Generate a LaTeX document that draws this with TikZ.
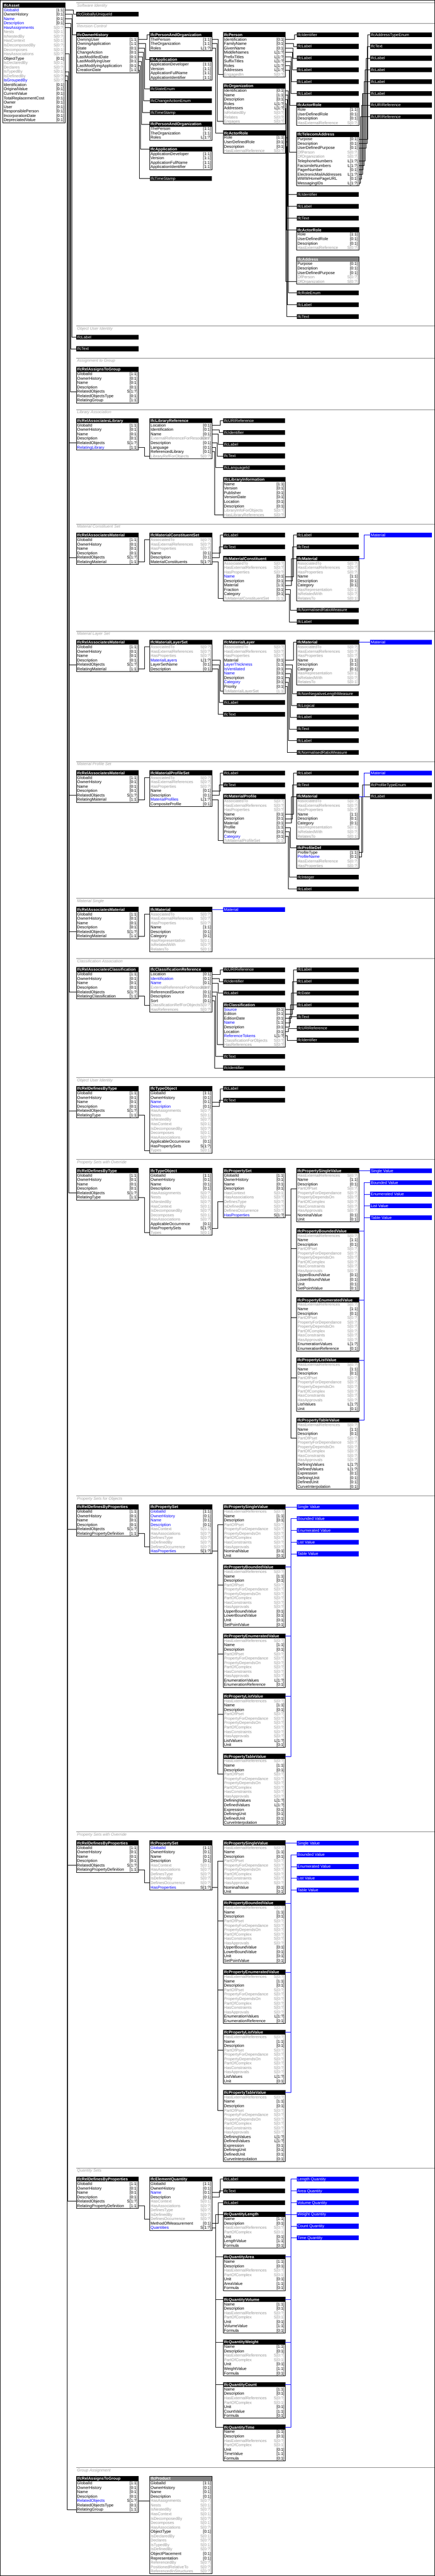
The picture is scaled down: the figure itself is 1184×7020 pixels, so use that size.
\documentclass[tikz,border=0pt]{standalone}
\usepackage{fontspec}
\setmainfont{Liberation Sans}

\definecolor{kk}{RGB}{0,0,0}
\definecolor{gg}{RGB}{150,150,150}
\definecolor{bb}{RGB}{0,0,255}
\definecolor{bg}{RGB}{0,0,255}
\definecolor{blu}{RGB}{0,0,255}
\definecolor{absgray}{RGB}{128,128,128}
\definecolor{secgray}{RGB}{128,128,128}
\definecolor{labgray}{RGB}{160,160,160}
\def\cardkk{kk}\def\cardgg{gg}\def\cardbb{kk}\def\cardbg{gg}

\newcommand{\rowf}{\fontsize{11}{12}\selectfont}

% entity box: [header fill]{name}{x}{y}{title}{rows}
\newcommand{\entity}[6][black]{%
  \fill[#1] (#3,#4) rectangle ++(169,13);
  \node[hdr] (#2) at (#3+2,#4+6.5) {#5};
  \coordinate (#2-h) at (#3,#4+6.5);
  \coordinate (#2-he) at (#3+169,#4+6.5);
  \edef\entrows{#6}%
  \foreach \nm/\cd/\cl [count=\i from 0] in \entrows {%
    \edef\cc{\csname card\cl\endcsname}%
    \node[row,text=\cl] (#2-\i) at (#3+2,#4+19+12*\i) {\nm};
    \node[card,text=\cc] (#2-\i-c) at (#3+167,#4+19+12*\i) {\cd};
    \coordinate (#2-\i-w) at (#3,#4+19+12*\i);
    \coordinate (#2-\i-e) at (#3+169,#4+19+12*\i);
    \xdef\entn{\i}}%
  \draw[box] (#3,#4) rectangle (#3+169,#4+26+12*\entn);}

% type box: [fill]{name}{x}{y}{title}
\newcommand{\tybox}[5][black]{%
  \fill[#1] (#3,#4) rectangle ++(169,13);
  \node[tlab] (#2) at (#3+2,#4+6.5) {#5};
  \coordinate (#2-h) at (#3,#4+6.5);
  \coordinate (#2-he) at (#3+169,#4+6.5);}

\newcommand{\conn}[4][wire]{\draw[#1] (#2) -| ([xshift=-#4]#3) -- (#3);}

\newcommand{\sectn}[2]{\draw[secline] (208,#1) -- (1184,#1);
  \node[seclab] at (210,#1+7) {#2};}

\def\relrows{GlobalId/[1:1]/kk,OwnerHistory/[0:1]/kk,Name/[0:1]/kk,Description/[0:1]/kk,RelatedObjects/S[1:?]/kk}
\def\rootinv{HasAssignments/S[0:?]/gg,Nests/S[0:1]/gg,IsNestedBy/S[0:?]/gg,HasContext/S[0:1]/gg,IsDecomposedBy/S[0:?]/gg,Decomposes/S[0:1]/gg,HasAssociations/S[0:?]/gg}
\def\matdef{AssociatedTo/S[0:?]/gg,HasExternalReferences/S[0:?]/gg,HasProperties/S[0:?]/gg}
\def\matrows{\matdef,Name/[1:1]/kk,Description/[0:1]/kk,Category/[0:1]/kk,HasRepresentation/S[0:1]/gg,IsRelatedWith/S[0:?]/gg,RelatesTo/S[0:1]/gg}
\def\proprows{HasExternalReferences/S[0:?]/gg,Name/[1:1]/kk,Description/[0:1]/kk,PartOfPset/S[0:?]/gg,PropertyForDependance/S[0:?]/gg,PropertyDependsOn/S[0:?]/gg,PartOfComplex/S[0:?]/gg,HasConstraints/S[0:?]/gg,HasApprovals/S[0:?]/gg}
\def\psetinv{HasContext/S[0:1]/gg,HasAssociations/S[0:?]/gg,DefinesType/S[0:?]/gg,IsDefinedBy/S[0:?]/gg,DefinesOccurrence/S[0:?]/gg}
\def\qtyrows{Name/[1:1]/kk,Description/[0:1]/kk,HasExternalReferences/S[0:?]/gg,PartOfComplex/S[0:1]/gg,Unit/[0:1]/kk}
\def\rolerows{Role/[1:1]/kk,UserDefinedRole/[0:1]/kk,Description/[0:1]/kk,HasExternalReference/S[0:?]/gg}
\def\paorows{ThePerson/[1:1]/kk,TheOrganization/[1:1]/kk,Roles/L[1:?]/kk}
\def\approws{ApplicationDeveloper/[1:1]/kk,Version/[1:1]/kk,ApplicationFullName/[1:1]/kk,ApplicationIdentifier/[1:1]/kk}

% property values with their value boxes: {pset}{prefix}{x}{y}
\newcommand{\propset}[4]{%
  \entity{#2s}{#3}{#4}{IfcPropertySingleValue}{\proprows,NominalValue/[0:1]/kk,Unit/[0:1]/kk}
  \entity{#2b}{#3}{#4+164}{IfcPropertyBoundedValue}{\proprows,UpperBoundValue/[0:1]/kk,LowerBoundValue/[0:1]/kk,Unit/[0:1]/kk,SetPointValue/[0:1]/kk}
  \entity{#2e}{#3}{#4+352}{IfcPropertyEnumeratedValue}{\proprows,EnumerationValues/L[1:?]/kk,EnumerationReference/[0:1]/kk}
  \entity{#2l}{#3}{#4+516}{IfcPropertyListValue}{\proprows,ListValues/L[1:?]/kk,Unit/[0:1]/kk}
  \entity{#2t}{#3}{#4+680}{IfcPropertyTableValue}{\proprows,DefiningValues/L[1:?]/kk,DefinedValues/L[1:?]/kk,Expression/[0:1]/kk,DefiningUnit/[0:1]/kk,DefinedUnit/[0:1]/kk,CurveInterpolation/[0:1]/kk}
  \tybox[blu]{#2vs}{#3+200}{#4}{Single Value}
  \tybox[blu]{#2vb}{#3+200}{#4+32}{Bounded Value}
  \tybox[blu]{#2ve}{#3+200}{#4+64}{Enumerated Value}
  \tybox[blu]{#2vl}{#3+200}{#4+96}{List Value}
  \tybox[blu]{#2vt}{#3+200}{#4+128}{Table Value}
  \foreach \p in {s,b,e,l,t}{\conn{#1-9-e}{#2\p-3-w}{15}\conn[bwire]{#2\p-he}{#2v\p-h}{16}}}

\begin{document}
\begin{tikzpicture}[x=1pt,y=-1pt,
  box/.style={draw=black,line width=1pt},
  hdr/.style={anchor=west,inner sep=0pt,text=white,text height=9pt,text depth=1pt,font=\rowf\bfseries},
  tlab/.style={anchor=west,inner sep=0pt,text=white,text height=9pt,text depth=1pt,font=\rowf},
  row/.style={anchor=west,inner sep=0pt,text height=9pt,text depth=1pt,font=\rowf},
  card/.style={anchor=east,inner sep=0pt,text height=9pt,text depth=1pt,font=\rowf},
  wire/.style={draw=black,line width=1pt},
  bwire/.style={draw=blu,line width=1pt},
  secline/.style={draw=secgray,line width=1pt},
  seclab/.style={anchor=west,inner sep=0pt,text=labgray,text height=9pt,text depth=1pt,font=\rowf\itshape}]

\useasboundingbox (0,0) rectangle (1184,7020);
\draw[box] (0.5,0.5) rectangle (1183.5,7019.5);

\entity{asset}{8}{8}{IfcAsset}{GlobalId/[1:1]/bb,OwnerHistory/[0:1]/kk,Name/[0:1]/bb,Description/[0:1]/bb,%
HasAssignments/S[0:?]/bg,Nests/S[0:1]/gg,IsNestedBy/S[0:?]/gg,HasContext/S[0:1]/gg,IsDecomposedBy/S[0:?]/gg,%
Decomposes/S[0:1]/gg,HasAssociations/S[0:?]/gg,ObjectType/[0:1]/kk,IsDeclaredBy/S[0:1]/gg,Declares/S[0:?]/gg,%
IsTypedBy/S[0:1]/gg,IsDefinedBy/S[0:?]/gg,IsGroupedBy/S[0:?]/bg,Identification/[0:1]/kk,OriginalValue/[0:1]/kk,%
CurrentValue/[0:1]/kk,TotalReplacementCost/[0:1]/kk,Owner/[0:1]/kk,User/[0:1]/kk,ResponsiblePerson/[0:1]/kk,%
IncorporationDate/[0:1]/kk,DepreciatedValue/[0:1]/kk}

% Software Identity, Revision Control
\sectn{8}{Software Identity}
\tybox{guid}{208}{32}{IfcGloballyUniqueId}
\sectn{64}{Revision Control}
\entity{ownh}{208}{88}{IfcOwnerHistory}{OwningUser/[1:1]/kk,OwningApplication/[1:1]/kk,State/[0:1]/kk,ChangeAction/[0:1]/kk,%
LastModifiedDate/[0:1]/kk,LastModifyingUser/[0:1]/kk,LastModifyingApplication/[0:1]/kk,CreationDate/[1:1]/kk}
\entity{pao1}{408}{88}{IfcPersonAndOrganization}{\paorows}
\entity{app1}{408}{156}{IfcApplication}{\approws}
\tybox{stat}{408}{236}{IfcStateEnum}
\tybox{chac}{408}{268}{IfcChangeActionEnum}
\tybox{tsa}{408}{300}{IfcTimeStamp}
\entity{pao2}{408}{332}{IfcPersonAndOrganization}{\paorows}
\entity{app2}{408}{400}{IfcApplication}{\approws}
\tybox{tsb}{408}{480}{IfcTimeStamp}
\entity{pers}{608}{88}{IfcPerson}{Identification/[0:1]/kk,FamilyName/[0:1]/kk,GivenName/[0:1]/kk,MiddleNames/L[1:?]/kk,%
PrefixTitles/L[1:?]/kk,SuffixTitles/L[1:?]/kk,Roles/L[1:?]/kk,Addresses/L[1:?]/kk,EngagedIn/S[0:?]/gg}
\entity{orgn}{608}{228}{IfcOrganization}{Identification/[0:1]/kk,Name/[1:1]/kk,Description/[0:1]/kk,Roles/L[1:?]/kk,%
Addresses/L[1:?]/kk,IsRelatedBy/S[0:?]/gg,Relates/S[0:?]/gg,Engages/S[0:?]/gg}
\entity{rola}{608}{356}{IfcActorRole}{\rolerows}
\tybox{idpa}{808}{88}{IfcIdentifier}
\tybox{lpa}{808}{120}{IfcLabel}
\tybox{lpb}{808}{152}{IfcLabel}
\tybox{lpc}{808}{184}{IfcLabel}
\tybox{lpd}{808}{216}{IfcLabel}
\tybox{lpe}{808}{248}{IfcLabel}
\entity{rolb}{808}{280}{IfcActorRole}{\rolerows}
\entity{tele}{808}{360}{IfcTelecomAddress}{Purpose/[0:1]/kk,Description/[0:1]/kk,UserDefinedPurpose/[0:1]/kk,OfPerson/S[0:?]/gg,%
OfOrganization/S[0:?]/gg,TelephoneNumbers/L[1:?]/kk,FacsimileNumbers/L[1:?]/kk,PagerNumber/[0:1]/kk,%
ElectronicMailAddresses/L[1:?]/kk,WWWHomePageURL/[0:1]/kk,MessagingIDs/L[1:?]/kk}
\tybox{idoa}{808}{524}{IfcIdentifier}
\tybox{loa}{808}{556}{IfcLabel}
\tybox{toa}{808}{588}{IfcText}
\entity{rolc}{808}{620}{IfcActorRole}{\rolerows}
\entity[absgray]{addr}{808}{700}{IfcAddress}{Purpose/[0:1]/kk,Description/[0:1]/kk,UserDefinedPurpose/[0:1]/kk,%
OfPerson/S[0:?]/gg,OfOrganization/S[0:?]/gg}
\tybox{renm}{808}{792}{IfcRoleEnum}
\tybox{lra}{808}{824}{IfcLabel}
\tybox{tra}{808}{856}{IfcText}
\tybox{atyp}{1008}{88}{IfcAddressTypeEnum}
\tybox{tta}{1008}{120}{IfcText}
\tybox{lta}{1008}{152}{IfcLabel}
\tybox{ltb}{1008}{184}{IfcLabel}
\tybox{ltc}{1008}{216}{IfcLabel}
\tybox{ltd}{1008}{248}{IfcLabel}
\tybox{uta}{1008}{280}{IfcURIReference}
\tybox{utb}{1008}{312}{IfcURIReference}

\foreach \src/\dst/\dd in {asset-0-e/guid-h/8,asset-1-e/ownh-h/11,
  ownh-0-e/pao1-h/8,ownh-1-e/app1-h/11,ownh-2-e/stat-h/14,ownh-3-e/chac-h/17,
  ownh-4-e/tsa-h/20,ownh-5-e/pao2-h/23,ownh-6-e/app2-h/26,ownh-7-e/tsb-h/29,
  pao1-0-e/pers-8-w/14,pao1-1-e/orgn-7-w/17,pao1-2-e/rola-h/20,
  pers-0-e/idpa-h/6,pers-1-e/lpa-h/8,pers-2-e/lpb-h/10,pers-3-e/lpc-h/12,
  pers-4-e/lpd-h/14,pers-5-e/lpe-h/16,pers-6-e/rolb-h/18,pers-7-e/tele-3-w/20,
  orgn-0-e/idoa-h/22,orgn-1-e/loa-h/24,orgn-2-e/toa-h/26,orgn-3-e/rolc-h/28,orgn-4-e/addr-4-w/30,
  rola-0-e/renm-h/23,rola-1-e/lra-h/25,rola-2-e/tra-h/27,
  tele-0-e/atyp-h/6,tele-1-e/tta-h/8.5,tele-2-e/lta-h/11,tele-5-e/ltb-h/13.5,tele-6-e/ltc-h/16,
  tele-7-e/ltd-h/18.5,tele-8-e/ltd-h/21,tele-9-e/uta-h/23.5,tele-10-e/utb-h/26}
  {\conn{\src}{\dst}{\dd}}

% Object User Identity, Assignment to Group
\sectn{888}{Object User Identity}
\tybox{luid}{208}{912}{IfcLabel}
\tybox{tuid}{208}{944}{IfcText}
\sectn{976}{Assignment to Group}
\entity{rag1}{208}{1000}{IfcRelAssignsToGroup}{\relrows,RelatedObjectsType/[0:1]/kk,RelatingGroup/[1:1]/kk}

% Library Association
\sectn{1116}{Library Association}
\entity{rlib}{208}{1140}{IfcRelAssociatesLibrary}{\relrows,RelatingLibrary/[1:1]/bb}
\entity{lref}{408}{1140}{IfcLibraryReference}{Location/[0:1]/kk,Identification/[0:1]/kk,Name/[0:1]/kk,%
ExternalReferenceForResources/S[0:?]/gg,Description/[0:1]/kk,Language/[0:1]/kk,ReferencedLibrary/[0:1]/kk,%
LibraryRefForObjects/S[0:?]/gg}
\tybox{ulib}{608}{1140}{IfcURIReference}
\tybox{ilib}{608}{1172}{IfcIdentifier}
\tybox{llib}{608}{1204}{IfcLabel}
\tybox{tlib}{608}{1236}{IfcText}
\tybox{lang}{608}{1268}{IfcLanguageId}
\entity{linf}{608}{1300}{IfcLibraryInformation}{Name/[1:1]/kk,Version/[0:1]/kk,Publisher/[0:1]/kk,VersionDate/[0:1]/kk,%
Location/[0:1]/kk,Description/[0:1]/kk,LibraryInfoForObjects/S[0:?]/gg,HasLibraryReferences/S[0:?]/gg}

% Material Constituent Set
\sectn{1428}{Material Constituent Set}
\entity{rmc}{208}{1452}{IfcRelAssociatesMaterial}{\relrows,RelatingMaterial/[1:1]/kk}
\entity{mcs}{408}{1452}{IfcMaterialConstituentSet}{\matdef,Name/[0:1]/kk,Description/[0:1]/kk,MaterialConstituents/S[1:?]/kk}
\tybox{lmc}{608}{1452}{IfcLabel}
\tybox{tmc}{608}{1484}{IfcText}
\entity{mcon}{608}{1516}{IfcMaterialConstituent}{\matdef,Name/[0:1]/bb,Description/[0:1]/kk,Material/[1:1]/kk,%
Fraction/[0:1]/kk,Category/[0:1]/kk,ToMaterialConstituentSet/[1:1]/gg}
\tybox{lmca}{808}{1452}{IfcLabel}
\tybox{tmca}{808}{1484}{IfcText}
\entity{matc}{808}{1516}{IfcMaterial}{\matrows}
\tybox{nrmc}{808}{1656}{IfcNormalisedRatioMeasure}
\tybox{lmcb}{808}{1688}{IfcLabel}
\tybox[blu]{bmc}{1008}{1452}{Material}

% Material Layer Set
\sectn{1720}{Material Layer Set}
\entity{rml}{208}{1744}{IfcRelAssociatesMaterial}{\relrows,RelatingMaterial/[1:1]/kk}
\entity{mls}{408}{1744}{IfcMaterialLayerSet}{\matdef,MaterialLayers/L[1:?]/bb,LayerSetName/[0:1]/kk,Description/[0:1]/kk}
\entity{mlay}{608}{1744}{IfcMaterialLayer}{\matdef,Material/[0:1]/kk,LayerThickness/[1:1]/bb,IsVentilated/[0:1]/bb,%
Name/[0:1]/bb,Description/[0:1]/kk,Category/[0:1]/bb,Priority/[0:1]/kk,ToMaterialLayerSet/[1:1]/gg}
\tybox{lml}{608}{1908}{IfcLabel}
\tybox{tml}{608}{1940}{IfcText}
\entity{matl}{808}{1744}{IfcMaterial}{\matrows}
\tybox{nnlm}{808}{1884}{IfcNonNegativeLengthMeasure}
\tybox{lgml}{808}{1916}{IfcLogical}
\tybox{lmla}{808}{1948}{IfcLabel}
\tybox{tmla}{808}{1980}{IfcText}
\tybox{lmlb}{808}{2012}{IfcLabel}
\tybox{nrml}{808}{2044}{IfcNormalisedRatioMeasure}
\tybox[blu]{bml}{1008}{1744}{Material}

% Material Profile Set
\sectn{2075}{Material Profile Set}
\entity{rmp}{208}{2100}{IfcRelAssociatesMaterial}{\relrows,RelatingMaterial/[1:1]/kk}
\entity{mps}{408}{2100}{IfcMaterialProfileSet}{\matdef,Name/[0:1]/kk,Description/[0:1]/kk,MaterialProfiles/L[1:?]/bb,%
CompositeProfile/[0:1]/kk}
\tybox{lmp}{608}{2100}{IfcLabel}
\tybox{tmp}{608}{2132}{IfcText}
\entity{mprf}{608}{2164}{IfcMaterialProfile}{\matdef,Name/[0:1]/kk,Description/[0:1]/kk,Material/[0:1]/kk,%
Profile/[1:1]/kk,Priority/[0:1]/kk,Category/[0:1]/bb,ToMaterialProfileSet/[1:1]/gg}
\tybox{lmpa}{808}{2100}{IfcLabel}
\tybox{tmpa}{808}{2132}{IfcText}
\entity{matp}{808}{2164}{IfcMaterial}{\matrows}
\entity{pdef}{808}{2304}{IfcProfileDef}{ProfileType/[1:1]/kk,ProfileName/[0:1]/bb,HasExternalReference/S[0:?]/gg,%
HasProperties/S[0:?]/gg}
\tybox{intp}{808}{2384}{IfcInteger}
\tybox{lmpb}{808}{2416}{IfcLabel}
\tybox[blu]{bmp}{1008}{2100}{Material}
\tybox{ptyp}{1008}{2132}{IfcProfileTypeEnum}
\tybox{lmpc}{1008}{2164}{IfcLabel}

% Material Single
\sectn{2448}{Material Single}
\entity{rms}{208}{2472}{IfcRelAssociatesMaterial}{\relrows,RelatingMaterial/[1:1]/kk}
\entity{mats}{408}{2472}{IfcMaterial}{\matrows}
\tybox[blu]{bms}{608}{2472}{Material}

% Classification Association
\sectn{2612}{Classification Association}
\entity{rcl}{208}{2636}{IfcRelAssociatesClassification}{\relrows,RelatingClassification/[1:1]/kk}
\entity{cref}{408}{2636}{IfcClassificationReference}{Location/[0:1]/kk,Identification/[0:1]/bb,Name/[0:1]/bb,%
ExternalReferenceForResources/S[0:?]/gg,ReferencedSource/[0:1]/kk,Description/[0:1]/kk,Sort/[0:1]/kk,%
ClassificationRefForObjects/S[0:?]/gg,HasReferences/S[0:?]/gg}
\tybox{ucl}{608}{2636}{IfcURIReference}
\tybox{icl}{608}{2668}{IfcIdentifier}
\tybox{lcl}{608}{2700}{IfcLabel}
\entity{clsf}{608}{2732}{IfcClassification}{Source/[0:1]/bb,Edition/[0:1]/kk,EditionDate/[0:1]/kk,Name/[1:1]/bb,%
Description/[0:1]/kk,Location/[0:1]/kk,ReferenceTokens/L[1:?]/bb,ClassificationForObjects/S[0:?]/gg,HasReferences/S[0:?]/gg}
\tybox{tcl}{608}{2872}{IfcText}
\tybox{icla}{608}{2904}{IfcIdentifier}
\tybox{lcla}{808}{2636}{IfcLabel}
\tybox{lclb}{808}{2668}{IfcLabel}
\tybox{dcl}{808}{2700}{IfcDate}
\tybox{lclc}{808}{2732}{IfcLabel}
\tybox{tcla}{808}{2764}{IfcText}
\tybox{ucla}{808}{2796}{IfcURIReference}
\tybox{iclb}{808}{2828}{IfcIdentifier}

% Object User Identity (type)
\sectn{2936}{Object User Identity}
\entity{rdt1}{208}{2960}{IfcRelDefinesByType}{\relrows,RelatingType/[1:1]/kk}
\entity{tyo1}{408}{2960}{IfcTypeObject}{GlobalId/[1:1]/kk,OwnerHistory/[0:1]/kk,Name/[0:1]/bb,Description/[0:1]/bb,%
\rootinv,ApplicableOccurrence/[0:1]/kk,HasPropertySets/S[1:?]/kk,Types/S[0:1]/gg}
\tybox{lty}{608}{2960}{IfcLabel}
\tybox{tty}{608}{2992}{IfcText}

\foreach \src/\dst/\dd in {asset-2-e/luid-h/13,asset-3-e/tuid-h/15,asset-4-e/rag1-4-w/17,
  asset-10-e/rlib-4-w/19,rlib-5-e/lref-7-w/15,
  lref-0-e/ulib-h/8,lref-1-e/ilib-h/11,lref-2-e/llib-h/14,lref-4-e/tlib-h/17,lref-5-e/lang-h/20,lref-6-e/linf-7-w/23,
  asset-10-e/rmc-4-w/19,rmc-5-e/mcs-0-w/15,mcs-3-e/lmc-h/8,mcs-4-e/tmc-h/11,mcs-5-e/mcon-8-w/14,
  mcon-3-e/lmca-h/8,mcon-4-e/tmca-h/11,mcon-5-e/matc-h/14,mcon-6-e/nrmc-h/17,mcon-7-e/lmcb-h/20,
  asset-10-e/rml-4-w/19,rml-5-e/mls-0-w/15,mls-3-e/mlay-10-w/8,mls-4-e/lml-h/11,mls-5-e/tml-h/14,
  mlay-3-e/matl-h/8,mlay-4-e/nnlm-h/11,mlay-5-e/lgml-h/14,mlay-6-e/lmla-h/17,mlay-7-e/tmla-h/20,
  mlay-8-e/lmlb-h/23,mlay-9-e/nrml-h/26,
  asset-10-e/rmp-4-w/19,rmp-5-e/mps-0-w/15,mps-3-e/lmp-h/8,mps-4-e/tmp-h/11,mps-5-e/mprf-9-w/14,
  mprf-3-e/lmpa-h/8,mprf-4-e/tmpa-h/11,mprf-5-e/matp-h/14,mprf-6-e/pdef-h/17,mprf-7-e/intp-h/20,mprf-8-e/lmpb-h/23,
  pdef-0-e/ptyp-h/20,pdef-1-e/lmpc-h/23,
  asset-10-e/rms-4-w/19,rms-5-e/mats-0-w/15,
  asset-10-e/rcl-4-w/19,rcl-5-e/cref-7-w/15,
  cref-0-e/ucl-h/8,cref-1-e/icl-h/11,cref-2-e/lcl-h/14,cref-4-e/clsf-8-w/17,cref-5-e/tcl-h/20,cref-6-e/icla-h/23,
  clsf-0-e/lcla-h/8,clsf-1-e/lclb-h/11,clsf-2-e/dcl-h/14,clsf-3-e/lclc-h/17,clsf-4-e/tcla-h/20,
  clsf-5-e/ucla-h/23,clsf-6-e/iclb-h/26,
  asset-14-e/rdt1-4-w/21,rdt1-5-e/tyo1-13-w/15,tyo1-2-e/lty-h/8,tyo1-3-e/tty-h/11}
  {\conn{\src}{\dst}{\dd}}
\foreach \src/\dst in {matc-he/bmc-h,matl-he/bml-h,matp-he/bmp-h,mats-he/bms-h}
  {\conn[bwire]{\src}{\dst}{16}}

% Property Sets with Override (type)
\sectn{3160}{Property Sets with Override}
\entity{rdt2}{208}{3184}{IfcRelDefinesByType}{\relrows,RelatingType/[1:1]/kk}
\entity{tyo2}{408}{3184}{IfcTypeObject}{GlobalId/[1:1]/kk,OwnerHistory/[0:1]/kk,Name/[0:1]/kk,Description/[0:1]/kk,%
\rootinv,ApplicableOccurrence/[0:1]/kk,HasPropertySets/S[1:?]/kk,Types/S[0:1]/gg}
\entity{psa}{608}{3184}{IfcPropertySet}{GlobalId/[1:1]/kk,OwnerHistory/[0:1]/kk,Name/[0:1]/kk,Description/[0:1]/kk,%
\psetinv,HasProperties/S[1:?]/bb}
\propset{psa}{pa}{808}{3184}

% Property Sets for Objects
\sectn{4076}{Property Sets for Objects}
\entity{rdp1}{208}{4100}{IfcRelDefinesByProperties}{\relrows,RelatingPropertyDefinition/[1:1]/kk}
\entity{psb}{408}{4100}{IfcPropertySet}{GlobalId/[1:1]/bb,OwnerHistory/[0:1]/bb,Name/[0:1]/bb,Description/[0:1]/bb,%
\psetinv,HasProperties/S[1:?]/bb}
\propset{psb}{pb}{608}{4100}

% Property Sets with Override (occurrence)
\sectn{4992}{Property Sets with Override}
\entity{rdp2}{208}{5016}{IfcRelDefinesByProperties}{\relrows,RelatingPropertyDefinition/[1:1]/kk}
\entity{psc}{408}{5016}{IfcPropertySet}{GlobalId/[1:1]/bb,OwnerHistory/[0:1]/kk,Name/[0:1]/kk,Description/[0:1]/kk,%
\psetinv,HasProperties/S[1:?]/bb}
\propset{psc}{pc}{608}{5016}

% Quantity Sets
\sectn{5908}{Quantity Sets}
\entity{rdp3}{208}{5932}{IfcRelDefinesByProperties}{\relrows,RelatingPropertyDefinition/[1:1]/kk}
\entity{eqty}{408}{5932}{IfcElementQuantity}{GlobalId/[1:1]/kk,OwnerHistory/[0:1]/kk,Name/[0:1]/bb,Description/[0:1]/kk,%
\psetinv,MethodOfMeasurement/[0:1]/kk,Quantities/S[1:?]/bb}
\tybox{lqa}{608}{5932}{IfcLabel}
\tybox{tqa}{608}{5964}{IfcText}
\tybox{lqb}{608}{5996}{IfcLabel}
\foreach \q/\qn [count=\k from 0] in {len/Length,area/Area,vol/Volume,wgt/Weight,cnt/Count,time/Time}{
  \entity{q\q}{608}{6028+116*\k}{IfcQuantity\qn}{\qtyrows,\qn Value/[1:1]/kk,Formula/[0:1]/kk}
  \tybox[blu]{b\q}{808}{5932+32*\k}{\qn{} Quantity}
  \conn{eqty-10-e}{q\q-h}{20}
  \conn[bwire]{q\q-he}{b\q-h}{16}}

% Group Assignment
\sectn{6724}{Group Assignment}
\entity{rag2}{208}{6748}{IfcRelAssignsToGroup}{GlobalId/[1:1]/kk,OwnerHistory/[0:1]/kk,Name/[0:1]/kk,Description/[0:1]/kk,%
RelatedObjects/S[1:?]/bb,RelatedObjectsType/[0:1]/kk,RelatingGroup/[1:1]/kk}
\entity[absgray]{prod}{408}{6748}{IfcProduct}{GlobalId/[1:1]/kk,OwnerHistory/[0:1]/kk,Name/[0:1]/kk,Description/[0:1]/kk,%
\rootinv,ObjectType/[0:1]/kk,IsDeclaredBy/S[0:1]/gg,Declares/S[0:?]/gg,IsTypedBy/S[0:1]/gg,IsDefinedBy/S[0:?]/gg,%
ObjectPlacement/[0:1]/kk,Representation/[0:1]/kk,ReferencedBy/S[0:?]/gg,PositionedRelativeTo/S[0:?]/gg,%
ReferencedInStructures/S[0:?]/gg}

\foreach \src/\dst/\dd in {asset-14-e/rdt2-4-w/21,rdt2-5-e/tyo2-13-w/15,tyo2-12-e/psa-6-w/15,
  asset-15-e/rdp1-4-w/23,rdp1-5-e/psb-8-w/15,
  asset-15-e/rdp2-4-w/23,rdp2-5-e/psc-8-w/15,
  asset-15-e/rdp3-4-w/23,rdp3-5-e/eqty-8-w/15,eqty-2-e/lqa-h/8,eqty-3-e/tqa-h/11,eqty-9-e/lqb-h/14,
  asset-16-e/rag2-6-w/25,rag2-4-e/prod-4-w/15}
  {\conn{\src}{\dst}{\dd}}

\end{tikzpicture}
\end{document}
